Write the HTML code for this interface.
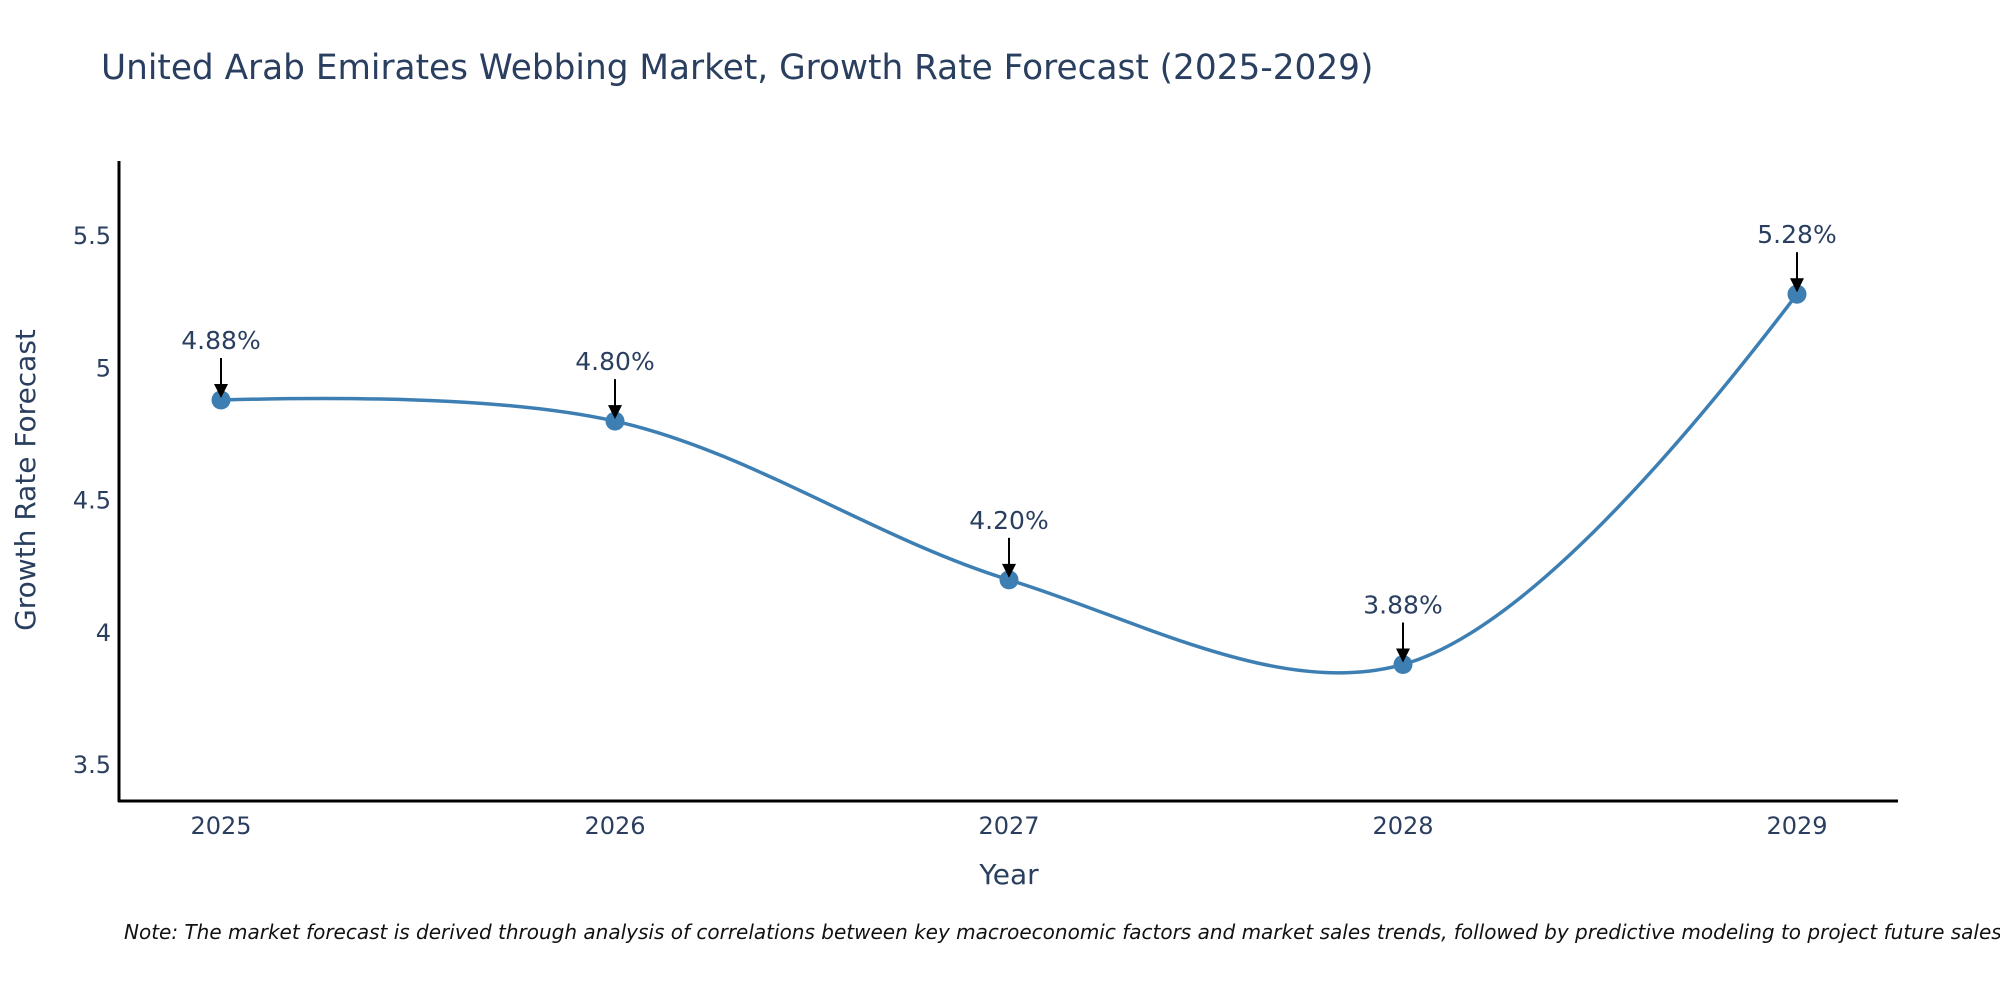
<!DOCTYPE html>
<html><head><meta charset="utf-8"><style>
body{margin:0;background:#fff;width:2000px;height:1000px;overflow:hidden;font-family:"Liberation Sans","DejaVu Sans",sans-serif}
</style></head><body>
<svg id="chart" width="2000" height="1000" xmlns="http://www.w3.org/2000/svg">
<text x="101" y="79" font-size="34.3" fill="#2a3f5f" font-family="DejaVu Sans, sans-serif">United Arab Emirates Webbing Market, Growth Rate Forecast (2025-2029)</text>
<g id="yticks"></g>
<g id="xticks"></g>
<line x1="119" y1="161" x2="119" y2="802" stroke="#000" stroke-width="3"/>
<line x1="118" y1="801" x2="1898" y2="801" stroke="#000" stroke-width="3"/>
<text transform="translate(35,480) rotate(-90)" text-anchor="middle" font-size="28" fill="#2a3f5f" font-family="DejaVu Sans, sans-serif">Growth Rate Forecast</text>
<text x="1009" y="884" text-anchor="middle" font-size="28" fill="#2a3f5f" font-family="DejaVu Sans, sans-serif">Year</text>
<g id="series"></g>
<text x="124" y="939" font-size="20" font-style="italic" fill="#111" font-family="DejaVu Sans, sans-serif">Note: The market forecast is derived through analysis of correlations between key macroeconomic factors and market sales trends, followed by predictive modeling to project future sales.</text>
</svg>
<script>
const years = [2025, 2026, 2027, 2028, 2029];
const growth = [4.88, 4.80, 4.20, 3.88, 5.28];
const valueLabels = ["4.88%", "4.80%", "4.20%", "3.88%", "5.28%"];
const yTickValues = [3.5, 4, 4.5, 5, 5.5];
const yTickLabels = ["3.5", "4", "4.5", "5", "5.5"];

const NS = "http://www.w3.org/2000/svg";
function xScale(v){ return 221 + (v - 2025) * 394; }
function yScale(v){ return 765 - (v - 3.5) * 264.5; }
function mk(tag, attrs, parent){ const e=document.createElementNS(NS,tag); for(const k in attrs) e.setAttribute(k,attrs[k]); parent.appendChild(e); return e; }

const yt = document.getElementById('yticks');
yTickValues.forEach((v,i)=>{
  const t = mk('text',{x:111,y:yScale(v)+8,'text-anchor':'end','font-size':24,fill:'#2a3f5f','font-family':'DejaVu Sans, sans-serif'},yt);
  
  
  t.textContent = yTickLabels[i];
});
const xt = document.getElementById('xticks');
years.forEach(y=>{
  const t = mk('text',{x:xScale(y),y:834,'text-anchor':'middle','font-size':24,fill:'#2a3f5f','font-family':'DejaVu Sans, sans-serif'},xt);
  
  
  t.textContent = String(y);
});

const pts = years.map((y,i)=>[xScale(y), yScale(growth[i])]);
function makeTangent(p,t,n,s){
  const d1x=p[0]-t[0],d1y=p[1]-t[1],d2x=n[0]-t[0],d2y=n[1]-t[1];
  const d1a=Math.pow(d1x*d1x+d1y*d1y,0.25),d2a=Math.pow(d2x*d2x+d2y*d2y,0.25);
  const nx=(d2a*d2a*d1x-d1a*d1a*d2x)*s,ny=(d2a*d2a*d1y-d1a*d1a*d2y)*s;
  const de1=3*d2a*(d1a+d2a),de2=3*d1a*(d1a+d2a);
  return [[t[0]+nx/de1,t[1]+ny/de1],[t[0]-nx/de2,t[1]-ny/de2]];
}
const tg=[];
for(let i=1;i<pts.length-1;i++) tg.push(makeTangent(pts[i-1],pts[i],pts[i+1],1));
const P=p=>p[0].toFixed(2)+','+p[1].toFixed(2);
let d='M'+P(pts[0])+'Q'+P(tg[0][0])+' '+P(pts[1]);
for(let i=2;i<pts.length-1;i++) d+='C'+P(tg[i-2][1])+' '+P(tg[i-1][0])+' '+P(pts[i]);
d+='Q'+P(tg[tg.length-1][1])+' '+P(pts[pts.length-1]);
const g=document.getElementById('series');
const line=mk('path',{d:d,fill:'none',stroke:'#3d7fb3','stroke-width':3.5},g);


pts.forEach((p,i)=>{
  const c=mk('circle',{cx:p[0],cy:p[1],r:9.5,fill:'#3d7fb3'},g);
  
  
  const a=mk('line',{x1:p[0],y1:p[1]-42,x2:p[0],y2:p[1]-14,stroke:'#000','stroke-width':2},g);
  
  
  const h=mk('polygon',{points:(p[0]-7)+','+(p[1]-16)+' '+(p[0]+7)+','+(p[1]-16)+' '+p[0]+','+(p[1]-2),fill:'#000'},g);
  
  
  const t=mk('text',{x:p[0],y:p[1]-51,'text-anchor':'middle','font-size':25,fill:'#2a3f5f','font-family':'DejaVu Sans, sans-serif'},g);
  
  
  t.textContent=valueLabels[i];
});
</script>
</body></html>
